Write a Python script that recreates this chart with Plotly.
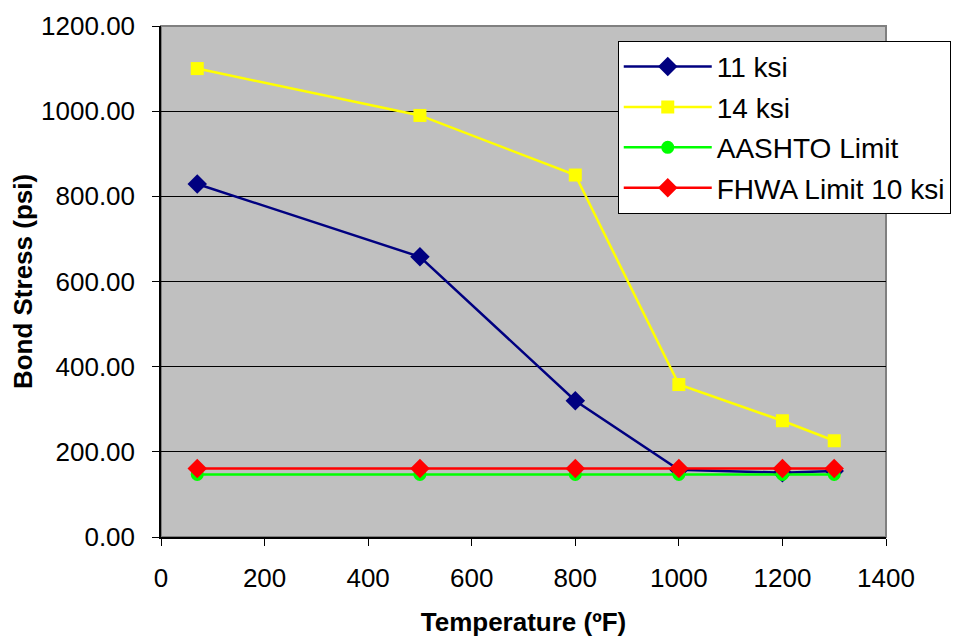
import plotly.graph_objects as go

temps = [70, 500, 800, 1000, 1200, 1300]
ksi11 = [829, 658, 320, 158, 151, 155]
ksi14 = [1100, 990, 850, 358, 273, 226]
aashto = [147, 147, 147, 147, 147, 147]
fhwa = [161, 161, 161, 161, 161, 161]

series = [
    ("11 ksi", ksi11, "#000080", "diamond", 15),
    ("14 ksi", ksi14, "#FFFF00", "square", 13),
    ("AASHTO Limit", aashto, "#00FF00", "circle", 13),
    ("FHWA Limit 10 ksi", fhwa, "#FF0000", "diamond", 15),
]

fig = go.Figure()
for i, (name, vals, col, sym, sz) in enumerate(series):
    fig.add_trace(go.Scatter(
        x=temps, y=vals, name=name, mode="lines+markers",
        line=dict(color=col, width=2.5),
        marker=dict(color=col, symbol=sym, size=sz),
        legendgroup=f"g{i}",
    ))

font = "Liberation Sans, Arial, sans-serif"
fig.update_layout(
    width=958, height=629,
    margin=dict(l=153, r=80, t=18, b=100),
    paper_bgcolor="white",
    plot_bgcolor="#C0C0C0",
    font=dict(family=font, size=26, color="black"),
    showlegend=True,
    legend=dict(
        x=0.63, y=0.971, xanchor="left", yanchor="top",
        bgcolor="white", bordercolor="black", borderwidth=1,
        font=dict(size=28, family=font),
        traceorder="grouped", tracegroupgap=1,
        itemwidth=88,
    ),
    xaxis=dict(
        range=[0, 1400], tickvals=[0, 200, 400, 600, 800, 1000, 1200, 1400],
        showgrid=False, zeroline=False, automargin=False,
        showline=True, linecolor="black", linewidth=1.5,
        ticks="outside", ticklen=7, tickcolor="black",
        tickfont=dict(size=26), ticklabelstandoff=10,
        title=dict(text="<b>Temperature (ºF)</b>", font=dict(size=26), standoff=24),
    ),
    yaxis=dict(
        range=[0, 1200], tickvals=[0, 200, 400, 600, 800, 1000, 1200],
        tickformat=".2f", automargin=False,
        showgrid=True, gridcolor="black", gridwidth=1,
        zeroline=False,
        showline=True, linecolor="black", linewidth=1.5,
        ticks="outside", ticklen=7, tickcolor="black",
        tickfont=dict(size=26), ticklabelstandoff=12,
        title=dict(text="<b>Bond Stress (psi)</b>", font=dict(size=26), standoff=5),
    ),
)
fig.add_shape(type="rect", xref="paper", yref="paper", x0=0, y0=0, x1=1, y1=1,
              line=dict(color="#808080", width=2), layer="below")

fig.write_html("out.html")
